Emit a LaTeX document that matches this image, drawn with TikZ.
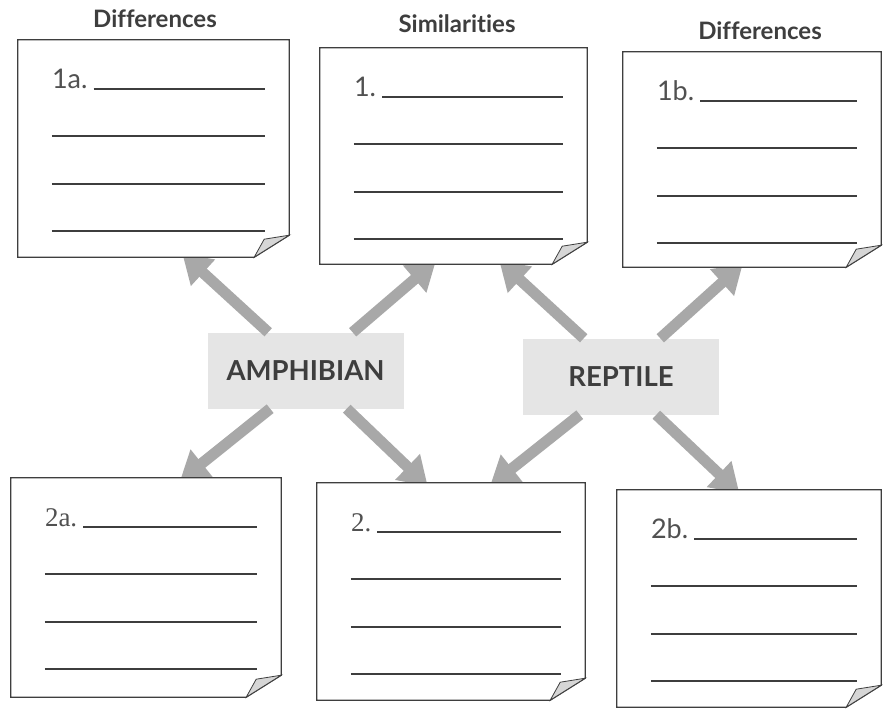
\documentclass[tikz,border=0pt]{standalone}
\usepackage{fontspec}
\setmainfont{Lato}[Ligatures=NoCommon]
\newfontfamily\serifnum{Liberation Serif}
\usetikzlibrary{arrows.meta,calc}
\definecolor{inkgray}{RGB}{62,62,62}
\definecolor{arrowgray}{RGB}{168,168,168}
\definecolor{tagfill}{RGB}{229,229,229}
\definecolor{flapgray}{RGB}{214,214,214}

\tikzset{
  note/.style={rectangle, inner sep=0pt, draw=none},
  head/.style={font=\fontsize{24}{28}\selectfont\bfseries, text=inkgray, anchor=base, inner sep=0pt},
  animal/.style={rectangle, fill=tagfill, minimum width=196pt, minimum height=76pt,
    font=\fontsize{27.5}{32}\selectfont\bfseries, text=inkgray},
  numlbl/.style={font=\fontsize{27}{31}\selectfont, text=inkgray!90, anchor=base west, inner sep=0pt},
  rule/.style={draw=inkgray, line width=1.5pt},
  paper/.style={draw=inkgray, line width=1.3pt, fill=white},
  flap/.style={draw=inkgray, line width=0.8pt, fill=flapgray},
  bigarrow/.style={draw=arrowgray, line width=11pt, -{Triangle[length=28pt,width=34pt]}, shorten >=-5pt},
}

\newcommand\drawnote[2]{%
  \filldraw[paper] (#1.north west) -- (#1.north east) -- ([shift={(0,-22)}]#1.south east)
    -- ([shift={(-35,0)}]#1.south east) -- (#1.south west) -- cycle;
  \filldraw[flap] ([shift={(-35,0)}]#1.south east)
    .. controls ([shift={(-30,-9)}]#1.south east) .. ([shift={(-25,-18)}]#1.south east)
    .. controls ([shift={(-13,-20)}]#1.south east) .. ([shift={(0,-22)}]#1.south east) -- cycle;
  \node[numlbl] (#1num) at ([shift={(34,49)}]#1.north west) {#2};
  \draw[rule] ([xshift=6pt]#1num.base east) -- ([shift={(-24,49)}]#1.north east);
  \foreach \dy in {96,144,191}
    \draw[rule] ([shift={(34,\dy)}]#1.north west) -- ([shift={(-24,\dy)}]#1.north east);
}

\begin{document}
\begin{tikzpicture}[x=1pt, y=-1pt]

  \fill[white] (0,0) rectangle (883,711);
  \useasboundingbox (0,0) rectangle (883,711);

  \begin{scope}[every node/.style={note}]
    \node[minimum width=271pt, minimum height=217pt] (n1a) at (153.5,148.5) {};
    \node[minimum width=267pt, minimum height=216pt] (n1)  at (453.5,156)   {};
    \node[minimum width=258pt, minimum height=215pt] (n1b) at (752,159.5)   {};
    \node[minimum width=270pt, minimum height=219pt] (n2a) at (146,587.5)   {};
    \node[minimum width=268pt, minimum height=217pt] (n2)  at (451,591.5)   {};
    \node[minimum width=264pt, minimum height=217pt] (n2b) at (749,598.5)   {};
  \end{scope}

  \node[animal] (amph) at (305.5,370.5) {AMPHIBIAN};
  \node[animal] (rept) at (621,376.5)   {REPTILE};

  \draw[bigarrow] ($(amph.north west)!0.31!(amph.north east)$) -- ($(n1a.south west)!0.62!(n1a.south east)$);
  \draw[bigarrow] ($(amph.north west)!0.74!(amph.north east)$) -- ($(n1.south west)!0.42!(n1.south east)$);
  \draw[bigarrow] ($(amph.south west)!0.32!(amph.south east)$) -- ($(n2a.north west)!0.64!(n2a.north east)$);
  \draw[bigarrow] ($(amph.south west)!0.71!(amph.south east)$) -- ($(n2.north west)!0.40!(n2.north east)$);
  \draw[bigarrow] ($(rept.north west)!0.31!(rept.north east)$) -- ($(n1.south west)!0.685!(n1.south east)$);
  \draw[bigarrow] ($(rept.north west)!0.70!(rept.north east)$) -- ($(n1b.south west)!0.45!(n1b.south east)$);
  \draw[bigarrow] ($(rept.south west)!0.29!(rept.south east)$) -- ($(n2.north west)!0.66!(n2.north east)$);
  \draw[bigarrow] ($(rept.south west)!0.68!(rept.south east)$) -- ($(n2b.north west)!0.45!(n2b.north east)$);

  \drawnote{n1a}{1a.}
  \drawnote{n1}{1.}
  \drawnote{n1b}{1b.}
  \drawnote{n2a}{{\serifnum 2a.}}
  \drawnote{n2}{{\serifnum 2.}}
  \drawnote{n2b}{2b.}

  \node[head] (hdiffa) at (155,28)  {Differences};
  \node[head] (hsim)   at (457,33)  {Similarities};
  \node[head] (hdiffb) at (760,40)  {Differences};

\end{tikzpicture}
\end{document}
